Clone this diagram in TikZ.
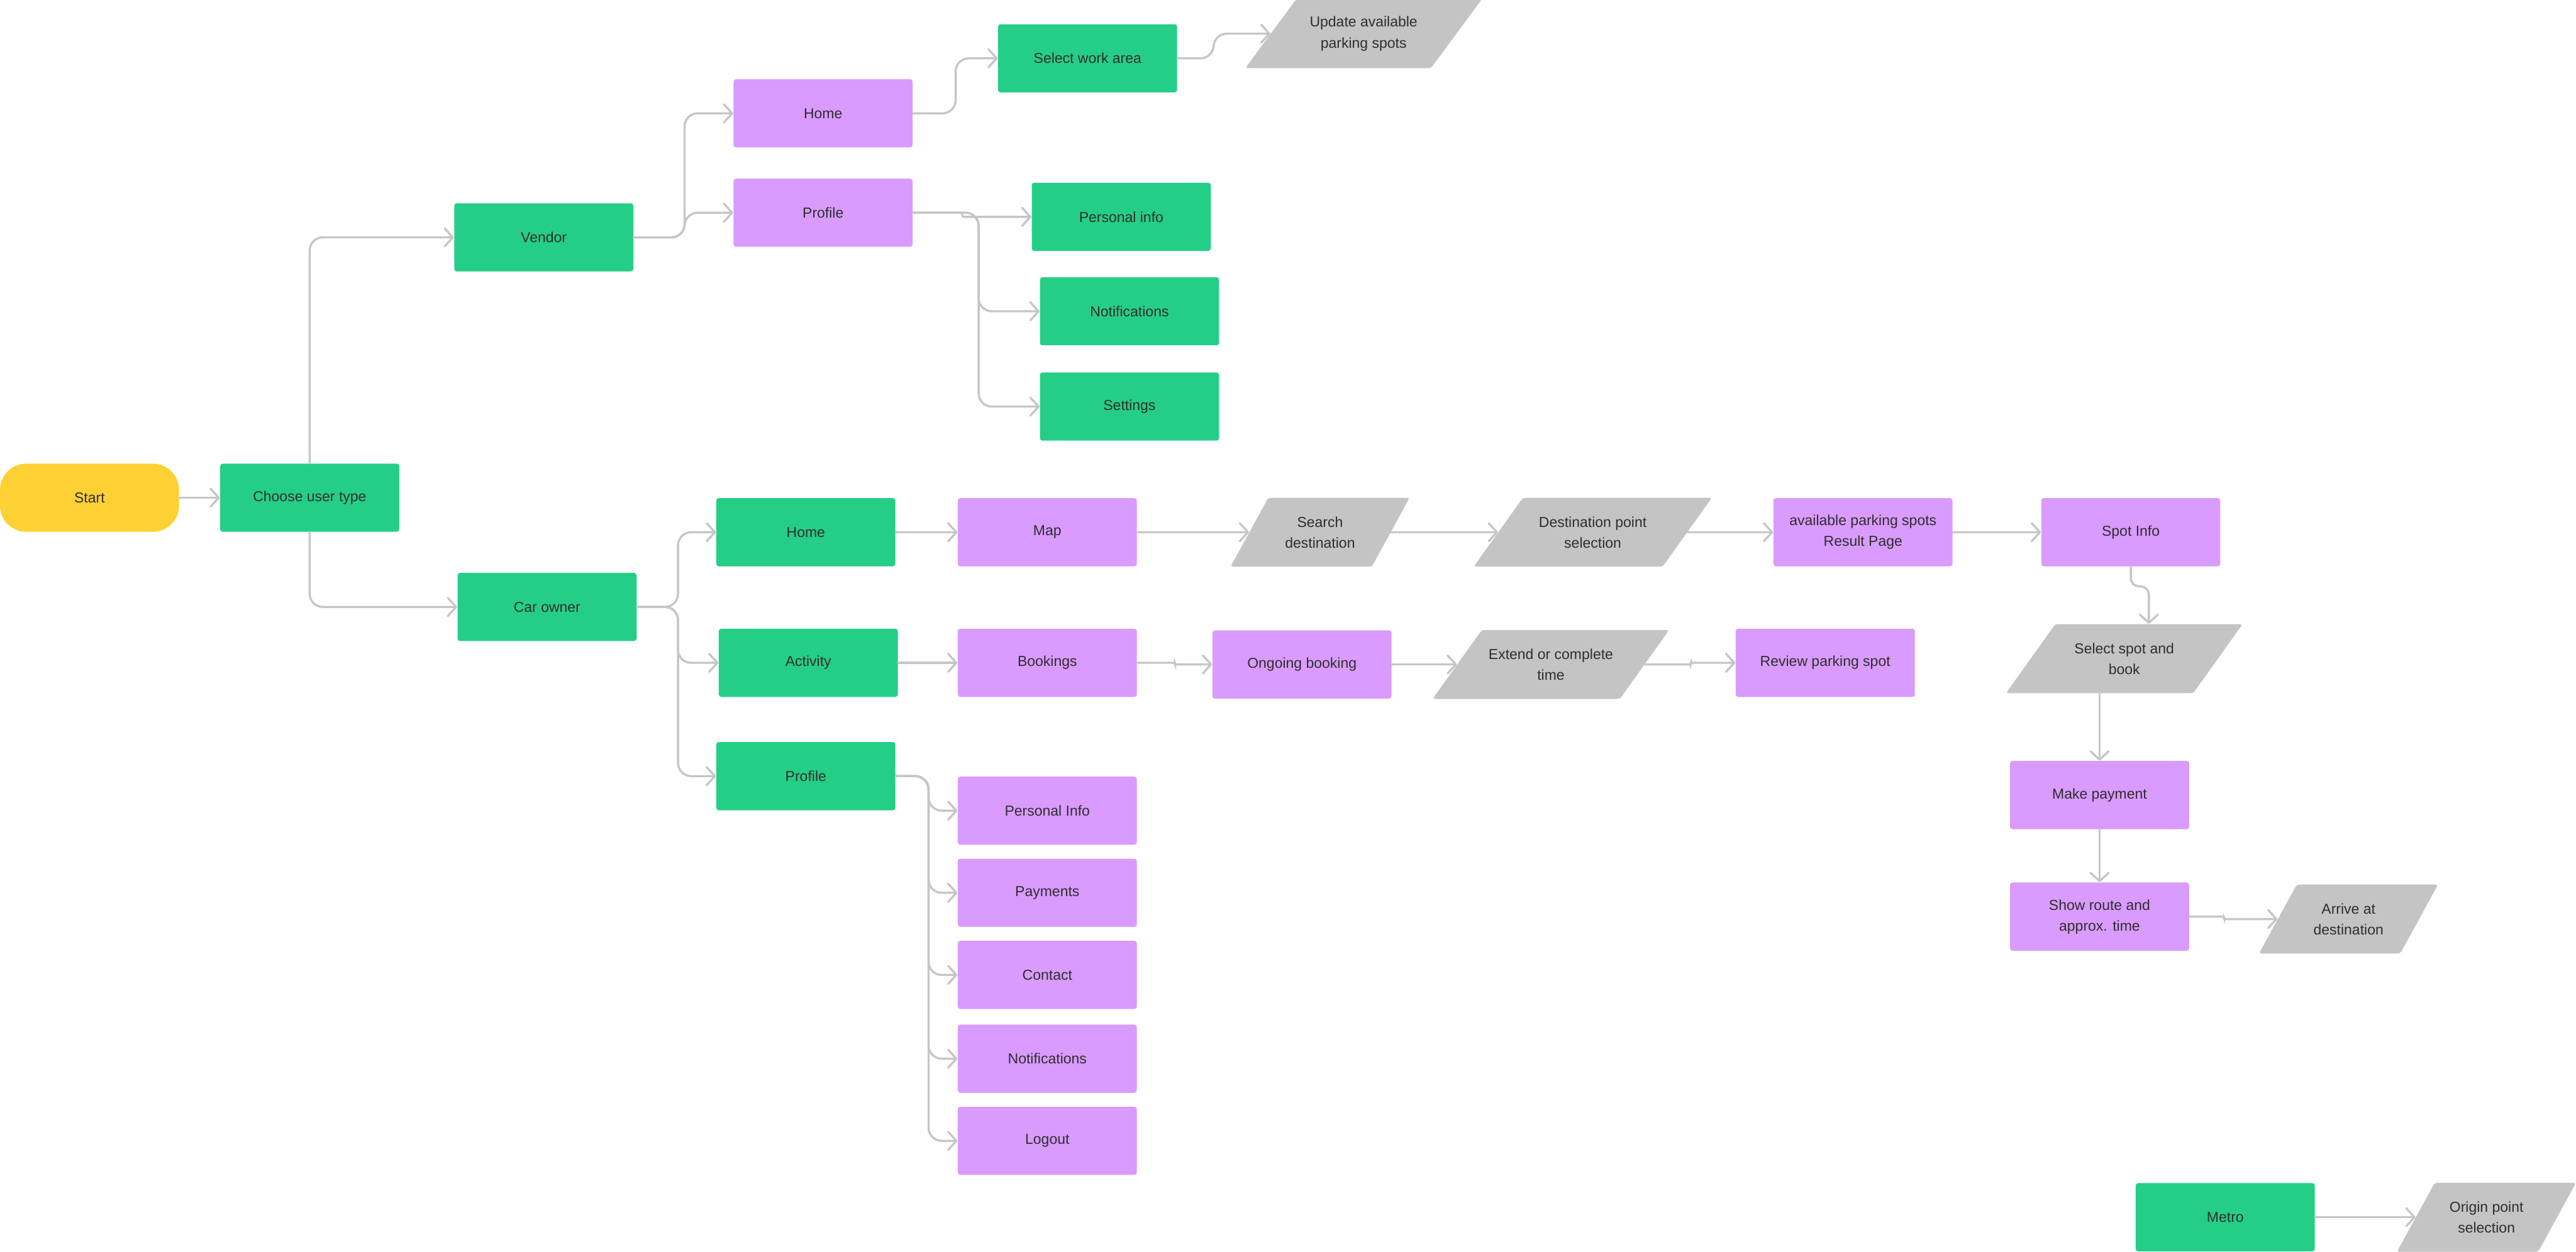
\documentclass[tikz,border=0pt]{standalone}
\usepackage{fontspec}
\setsansfont{Liberation Sans}
\usetikzlibrary{arrows.meta}

\definecolor{cgreen}{HTML}{25CE87}
\definecolor{cpurple}{HTML}{D99BFD}
\definecolor{cgray}{HTML}{C4C4C4}
\definecolor{cyellow}{HTML}{FDD133}
\definecolor{cline}{HTML}{C6C6C6}
\definecolor{cink}{HTML}{2E2E2E}

% slanted input/output box: name, x, y, total width, slant, text
\newcommand{\iobox}[6]{%
  \fill[cgray,rounded corners=1.5pt] (#2-#4/2,#3+21) -- (#2+#4/2-#5,#3+21) -- (#2+#4/2,#3-21) -- (#2-#4/2+#5,#3-21) -- cycle;
  \node[iotext,minimum width=#4-#5] (#1) at (#2,#3) {#6};
}

\begin{document}
\begin{tikzpicture}
[x=1pt,y=-1pt]
\tikzset{box/.style={rectangle,rounded corners=1.5pt,minimum width=109pt,minimum height=41.5pt,inner sep=1pt,align=center,text=cink,font=\sffamily\fontsize{8.8}{12.7}\selectfont}}
\tikzset{greenbox/.style={box,fill=cgreen}}
\tikzset{purplebox/.style={box,fill=cpurple}}
\tikzset{startbox/.style={box,fill=cyellow,rounded corners=16pt}}
\tikzset{iotext/.style={box,minimum height=42pt}}
\tikzset{link/.style={draw=cline,line width=1.3pt,line cap=round,rounded corners=8pt,-{Straight Barb[length=5pt,width=11pt,round]}}}
\tikzset{jog/.style={link,rounded corners=1pt}}
\useasboundingbox (0,0) rectangle (1568,762);

\node [startbox] (start) at (54.5,303) {Start};
\node [greenbox] (choose) at (188.5,303) {Choose user type};
\node [greenbox] (vendor) at (331,144.5) {Vendor};
\node [greenbox] (carowner) at (333,369.5) {Car owner};

\node [purplebox] (vhome) at (501,69) {Home};
\node [purplebox] (vprofile) at (501,129.5) {Profile};
\node [greenbox] (workarea) at (662,35.5) {Select work area};
\iobox{update}{830}{20.5}{144}{31}{Update available\\parking spots}
\node [greenbox] (vinfo) at (682.5,132) {Personal info};
\node [greenbox] (vnotif) at (687.5,189.5) {Notifications};
\node [greenbox] (vsettings) at (687.5,247.5) {Settings};

\node [greenbox] (home) at (490.5,324) {Home};
\node [greenbox] (activity) at (492,403.5) {Activity};
\node [greenbox] (profile) at (490.5,472.5) {Profile};

\node [purplebox] (map) at (637.5,324) {Map};
\iobox{search}{803.5}{324}{109}{23}{Search\\destination}
\iobox{destsel}{969.5}{324}{145}{30}{Destination point\\selection}
\node [purplebox] (avail) at (1134,324) {available parking spots\\Result Page};
\node [purplebox] (spot) at (1297,324) {Spot Info};
\iobox{select}{1293}{401}{144}{30}{Select spot and\\book}
\node [purplebox] (pay) at (1278,484) {Make payment};
\node [purplebox] (route) at (1278,558) {Show route and\\approx. time};
\iobox{arrive}{1429.5}{559.5}{109}{23}{Arrive at\\destination}

\node [purplebox] (bookings) at (637.5,403.5) {Bookings};
\node [purplebox] (ongoing) at (792.5,404.5) {Ongoing booking};
\iobox{extend}{944}{404.5}{144}{30}{Extend or complete\\time}
\node [purplebox] (review) at (1111,403.5) {Review parking spot};

\node [purplebox] (pinfo) at (637.5,493.5) {Personal Info};
\node [purplebox] (payments) at (637.5,543.5) {Payments};
\node [purplebox] (contact) at (637.5,593.5) {Contact};
\node [purplebox] (pnotif) at (637.5,644.5) {Notifications};
\node [purplebox] (logout) at (637.5,694.5) {Logout};

\node [greenbox] (metro) at (1354.5,741) {Metro};
\iobox{origin}{1513.5}{741}{109}{23}{Origin point\\selection}

\foreach \from/\to in {start/choose,home/map,map/search,search/destsel,destsel/avail,avail/spot,activity/bookings,ongoing/extend,pay/route,metro/origin}
	\draw [link] (\from) -- (\to);
\draw [link] (choose.north) |- (vendor.west);
\draw [link] (choose.south) |- (carowner.west);
\foreach \to in {vhome,vprofile}
	\draw [link] (vendor.east) -- ++(31,0) |- (\to.west);
\draw [link] (vhome.east) -- ++(26,0) |- (workarea.west);
\draw [link] (workarea.east) -- ++(22,0) |- (update.west);
\draw [jog] (vprofile.east) -- ++(30,0) |- (vinfo.west);
\foreach \to in {vnotif,vsettings}
	\draw [link] (vprofile.east) -- ++(40,0) |- (\to.west);
\foreach \to in {home,activity,profile}
	\draw [link] (carowner.east) -- ++(25,0) |- (\to.west);
\foreach \to in {pinfo,payments,contact,pnotif,logout}
	\draw [link] (profile.east) -- ++(20,0) |- (\to.west);
\draw [jog] (bookings.east) -- ++(23,0) |- (ongoing.west);
\draw [jog] (extend.east) -- ++(28,0) |- (review.west);
\draw [jog] (route.east) -- ++(21,0) |- (arrive.west);
\draw [link,rounded corners=5pt] (spot.south) -- ++(0,12) -| ([xshift=15pt]select.north);
\draw [link] ([xshift=-15pt]select.south) -- (pay.north);

\end{tikzpicture}
\end{document}
